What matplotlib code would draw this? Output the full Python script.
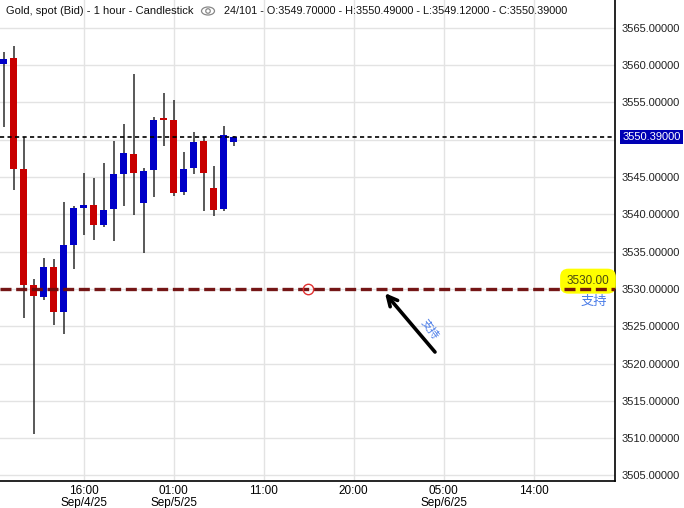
import numpy as np
import matplotlib
matplotlib.use("Agg")
import matplotlib.pyplot as plt
import matplotlib.patches as patches
from matplotlib.transforms import blended_transform_factory

plt.rcParams['font.family'] = ['Liberation Sans', 'Noto Sans CJK SC', 'DejaVu Sans']

# hourly candles, Sep 4 08:00 onwards
opens  = [3560.20, 3560.97, 3546.13, 3530.54, 3528.93, 3532.95, 3526.96, 3535.94,
          3540.90, 3541.26, 3538.62, 3540.76, 3545.46, 3548.10, 3541.57, 3546.00,
          3552.92, 3552.69, 3543.04, 3546.26, 3549.84, 3543.54, 3540.76, 3549.70]
highs  = [3561.77, 3562.61, 3550.42, 3531.34, 3534.16, 3534.02, 3541.66, 3541.13,
          3545.51, 3544.88, 3546.89, 3549.88, 3552.12, 3558.86, 3546.22, 3553.02,
          3556.31, 3555.34, 3548.36, 3551.09, 3550.42, 3546.53, 3551.85, 3550.49]
lows   = [3551.76, 3543.27, 3526.15, 3510.60, 3528.57, 3525.21, 3524.01, 3532.72,
          3537.28, 3536.61, 3538.35, 3536.47, 3541.17, 3539.96, 3534.87, 3542.37,
          3549.21, 3542.51, 3542.64, 3545.46, 3540.50, 3539.83, 3540.50, 3549.12]
closes = [3560.83, 3546.13, 3530.58, 3529.10, 3532.95, 3526.96, 3535.90, 3540.86,
          3541.26, 3538.62, 3540.59, 3545.42, 3548.23, 3545.59, 3545.82, 3552.65,
          3552.65, 3542.91, 3546.09, 3549.71, 3545.59, 3540.63, 3550.64, 3550.39]

last_price = 3550.39
support = 3530.00

xtick_pos = [8, 17, 26, 35, 44, 53]
xtick_labels = ["16:00\nSep/4/25", "01:00\nSep/5/25", "11:00", "20:00",
                "05:00\nSep/6/25", "14:00"]
ytick_vals = [3505, 3510, 3515, 3520, 3525, 3530, 3535, 3540, 3545, 3550, 3555, 3560, 3565]
ytick_labels = ["%.5f" % v if v != 3550 else "" for v in ytick_vals]

up_col = "#0000c8"
dn_col = "#c80000"

fig = plt.figure(figsize=(6.84, 5.08), dpi=100, facecolor="white")
ax = fig.add_axes([0.0, 27 / 508, 615 / 684, 481 / 508])

ax.set_xlim(-0.35, 61.15)
ax.set_ylim(3504.26, 3568.74)

# grid
ax.set_xticks(xtick_pos)
ax.set_xticklabels(xtick_labels, family=['Liberation Sans Narrow', 'Liberation Sans'], fontsize=8.5,
                   linespacing=0.95)
ax.set_yticks(ytick_vals)
ax.set_yticklabels(ytick_labels, fontsize=8, color="#222222")
ax.yaxis.tick_right()
ax.tick_params(axis="both", length=0)
ax.tick_params(axis="y", pad=5)
ax.tick_params(axis="x", pad=3)
ax.grid(True, color="#e3e3e3", lw=1.0)
ax.set_axisbelow(True)
for s in ["left", "top"]:
    ax.spines[s].set_visible(False)
ax.spines["right"].set_color("black")
ax.spines["bottom"].set_color("black")
ax.spines["right"].set_linewidth(1.2)
ax.spines["bottom"].set_linewidth(1.2)

# candles
w = 0.7
for i in range(len(opens)):
    o, h, l, c = opens[i], highs[i], lows[i], closes[i]
    col = up_col if c >= o else dn_col
    ax.plot([i, i], [l, h], color="#2b2b2b", lw=1.1, zorder=2, solid_capstyle="butt")
    lo, hi = min(o, c), max(o, c)
    ax.add_patch(patches.Rectangle((i - w / 2, lo), w, max(hi - lo, 0.25),
                                   facecolor=col, edgecolor=col, lw=0, zorder=3))

# current price line
ax.axhline(last_price, color="black", lw=1.2, dashes=(2.5, 2.0), zorder=4)

# support line
ax.axhline(support, color="#6e0a0a", lw=2.4, dashes=(3.3, 1.4), alpha=0.95, zorder=5)
ax.plot(30.4, support, marker="o", ms=7.5, mfc="none", mec="#e03030", mew=1.0, zorder=6)

# arrow and notes
ax.annotate("", xy=(38.15, 3529.45), xytext=(43.15, 3521.55),
            arrowprops=dict(arrowstyle="->,head_length=0.7,head_width=0.35",
                            lw=2.6, color="black", shrinkA=0, shrinkB=0), zorder=6)
ax.text(42.6, 3524.6, "支持", rotation=-53, color="#4a7ce8", fontsize=8,
        family=['Noto Sans CJK SC'], ha="center", va="center", zorder=6)
ax.text(58.45, 3531.05, "3530.00", color="#4a4a10", fontsize=8.5, ha="center", va="center",
        bbox=dict(boxstyle="round,pad=0.55,rounding_size=0.7", facecolor="#ffff00",
                  edgecolor="none"), zorder=4)
ax.text(59.05, 3528.3, "支持", color="#4a7ce8", fontsize=9.5, family=['Noto Sans CJK SC'],
        ha="center", va="center", zorder=6)

# last price tag on axis
tr = blended_transform_factory(ax.transAxes, ax.transData)
ax.text(1.012, last_price, "%.5f" % last_price, transform=tr, color="white", fontsize=8,
        ha="left", va="center", clip_on=False,
        bbox=dict(boxstyle="square,pad=0.2", facecolor="#0000b4", edgecolor="none"), zorder=7)

# header
fig.text(6 / 684, 1 - 11 / 508, "Gold, spot (Bid) - 1 hour - Candlestick", fontsize=8,
         ha="left", va="center", color="#111111")
fig.patches.append(patches.Ellipse((208 / 684, 1 - 11 / 508), 13 / 684, 8 / 508,
                                   transform=fig.transFigure, fill=False, ec="#888888", lw=0.9))
fig.patches.append(patches.Ellipse((208 / 684, 1 - 11 / 508), 4.5 / 684, 4.5 / 508,
                                   transform=fig.transFigure, fill=False, ec="#888888", lw=0.9))
fig.text(224 / 684, 1 - 11 / 508,
         "24/101 - O:3549.70000 - H:3550.49000 - L:3549.12000 - C:3550.39000",
         fontsize=7.8, ha="left", va="center", color="#111111")

fig.savefig("out.png", dpi=100)
